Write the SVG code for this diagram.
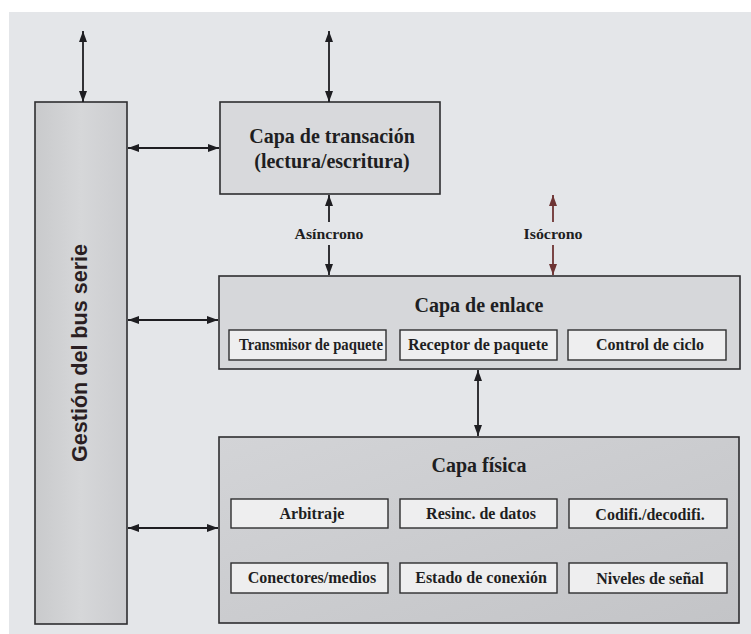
<svg xmlns="http://www.w3.org/2000/svg" width="751" height="634" viewBox="0 0 751 634">
  <defs>
    <style>
      .box { stroke: #2e2e30; stroke-width: 1.6; }
      .sub { fill: #eeeeef; stroke: #2e2e30; stroke-width: 1.4; }
      .t { font-family: "Liberation Serif", "Times New Roman", serif; font-weight: bold; fill: #1e1e22; text-anchor: middle; }
      .title { font-size: 20px; }
      .lab { font-size: 16px; }
      .small { font-size: 14px; }
      .side { font-family: "Liberation Sans", Arial, sans-serif; font-weight: bold; font-size: 22px; fill: #2a1e22; text-anchor: middle; }
      .arr { stroke: #1e1e22; stroke-width: 1.8; fill: none; }
      .arr-red { stroke: #6e3434; stroke-width: 1.8; fill: none; }
    </style>
    <marker id="ah" viewBox="0 0 11 8" refX="11" refY="4" markerWidth="11" markerHeight="8" markerUnits="userSpaceOnUse" orient="auto-start-reverse">
      <path d="M0,0 L11,4 L0,8 Z" fill="#1e1e22"/>
    </marker>
    <marker id="ahr" viewBox="0 0 11 8" refX="11" refY="4" markerWidth="11" markerHeight="8" markerUnits="userSpaceOnUse" orient="auto-start-reverse">
      <path d="M0,0 L11,4 L0,8 Z" fill="#6e3434"/>
    </marker>
    <linearGradient id="gcol" x1="0" y1="0" x2="1" y2="0">
      <stop offset="0" stop-color="#c9cacc"/>
      <stop offset="0.5" stop-color="#d6d7d9"/>
      <stop offset="1" stop-color="#cbcccf"/>
    </linearGradient>
    <linearGradient id="gphy" x1="0" y1="0" x2="1" y2="1">
      <stop offset="0" stop-color="#d3d4d7"/>
      <stop offset="1" stop-color="#c3c4c7"/>
    </linearGradient>
  </defs>

  <rect x="0" y="0" width="751" height="634" fill="#ffffff"/>
  <rect x="9" y="12" width="742" height="622" fill="#e4e6e9"/>

  <g id="gestion">
    <rect class="box" x="35" y="102" width="92" height="522" fill="url(#gcol)"/>
    <text class="side" transform="translate(87,353) rotate(-90)" x="0" y="0" textLength="218" lengthAdjust="spacingAndGlyphs">Gestión del bus serie</text>
  </g>

  <g id="transaccion">
    <rect class="box" x="220" y="102" width="220" height="92" fill="#d8d9dc"/>
    <text class="t title" x="332" y="143">Capa de transación</text>
    <text class="t title" x="332" y="168">(lectura/escritura)</text>
  </g>

  <g id="enlace">
    <rect class="box" x="219" y="276" width="521" height="93" fill="#d6d7da"/>
    <text class="t title" x="479" y="312">Capa de enlace</text>
    <g id="transmisor">
      <rect class="sub" x="229" y="330" width="157" height="30"/>
      <text class="t lab" x="311" y="350" textLength="144" lengthAdjust="spacingAndGlyphs">Transmisor de paquete</text>
    </g>
    <g id="receptor">
      <rect class="sub" x="400" y="330" width="157" height="30"/>
      <text class="t lab" x="478" y="350">Receptor de paquete</text>
    </g>
    <g id="control">
      <rect class="sub" x="568" y="330" width="158" height="30"/>
      <text class="t lab" x="650" y="350">Control de ciclo</text>
    </g>
  </g>

  <g id="fisica">
    <rect class="box" x="219" y="437" width="520" height="186" fill="url(#gphy)"/>
    <text class="t title" x="479" y="472">Capa física</text>
    <g id="arbitraje">
      <rect class="sub" x="231" y="499" width="157" height="29"/>
      <text class="t lab" x="312" y="519">Arbitraje</text>
    </g>
    <g id="resinc">
      <rect class="sub" x="400" y="499" width="157" height="29"/>
      <text class="t lab" x="481" y="519">Resinc. de datos</text>
    </g>
    <g id="codifi">
      <rect class="sub" x="569" y="499" width="158" height="29"/>
      <text class="t lab" x="650" y="520">Codifi./decodifi.</text>
    </g>
    <g id="conectores">
      <rect class="sub" x="231" y="563" width="157" height="30"/>
      <text class="t lab" x="312" y="583">Conectores/medios</text>
    </g>
    <g id="estado">
      <rect class="sub" x="400" y="563" width="157" height="30"/>
      <text class="t lab" x="481" y="583">Estado de conexión</text>
    </g>
    <g id="niveles">
      <rect class="sub" x="569" y="563" width="158" height="30"/>
      <text class="t lab" x="650" y="584">Niveles de señal</text>
    </g>
  </g>

  <g id="connectors">
    <line class="arr" x1="83" y1="31" x2="83" y2="102" marker-start="url(#ah)" marker-end="url(#ah)"/>
    <line class="arr" x1="329" y1="31" x2="329" y2="102" marker-start="url(#ah)" marker-end="url(#ah)"/>
    <line class="arr" x1="128" y1="148" x2="219" y2="148" marker-start="url(#ah)" marker-end="url(#ah)"/>
    <line class="arr" x1="329" y1="222" x2="329" y2="195" marker-end="url(#ah)"/>
    <line class="arr" x1="329" y1="245" x2="329" y2="275" marker-end="url(#ah)"/>
    <text class="t small" x="329" y="239" textLength="69" lengthAdjust="spacingAndGlyphs">Asíncrono</text>
    <line class="arr-red" x1="553" y1="222" x2="553" y2="195" marker-end="url(#ahr)"/>
    <line class="arr-red" x1="553" y1="245" x2="553" y2="275" marker-end="url(#ahr)"/>
    <text class="t small" x="553" y="239" textLength="59" lengthAdjust="spacingAndGlyphs">Isócrono</text>
    <line class="arr" x1="128" y1="320" x2="218" y2="320" marker-start="url(#ah)" marker-end="url(#ah)"/>
    <line class="arr" x1="478" y1="370" x2="478" y2="436" marker-start="url(#ah)" marker-end="url(#ah)"/>
    <line class="arr" x1="128" y1="528" x2="218" y2="528" marker-start="url(#ah)" marker-end="url(#ah)"/>
  </g>
</svg>
